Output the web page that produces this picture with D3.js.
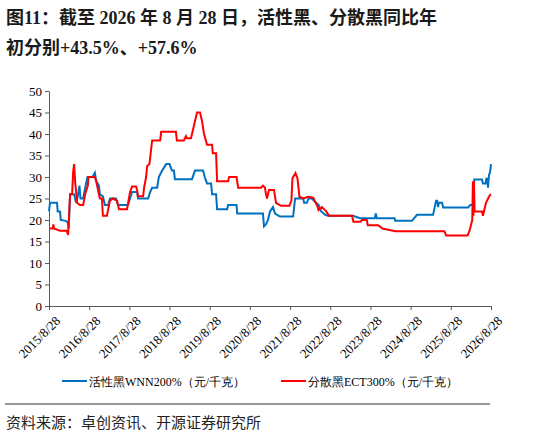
<!DOCTYPE html>
<html><head><meta charset="utf-8">
<script src="https://cdn.jsdelivr.net/npm/d3@7"></script>
<style>body{margin:0;background:#fff}</style>
</head><body>
<svg width="550" height="437"></svg>
<script>
// months since 2015/8/28, price
var blue = [[0,22],[0.3,24],[2.4,24],[2.6,22],[3.3,22],[3.5,20],[5,19.8],[5.6,19.5],[5.9,18],[6.3,26],[7.5,26],[8.1,24],[8.6,25.5],[9.1,28],[9.4,25],[10.2,25],[10.8,27.5],[11.5,30],[13,30],[13.7,31],[14.1,29],[14.9,28],[15.2,26],[16.1,25.5],[16.7,23.5],[17.7,23.5],[18.2,25],[20,25],[20.6,23.5],[23.6,23.5],[24.8,26.5],[26.3,26.5],[26.6,25],[29.6,25],[30.2,26.5],[30.8,27.5],[32.3,27.5],[32.8,30],[33.8,31.5],[35,33],[36,33],[36.7,31.5],[37.3,31.5],[37.6,29.5],[42.7,29.5],[43.6,31.5],[46,31.5],[46.5,30],[47.2,28.5],[48.4,28.5],[48.7,26],[49.9,26],[50.2,22.5],[53.2,22.5],[53.5,23.5],[56,23.5],[56.2,21.5],[63.9,21.5],[64.2,18.5],[64.8,19],[65.4,20],[66,22],[66.9,23],[67.5,21.5],[68.5,21],[69,20.8],[72.9,20.8],[73.5,25],[75.9,25],[76.2,24],[77,24],[77.5,25],[78.5,25],[79.5,24.2],[80.5,23.5],[81.3,22],[82.5,21.2],[83.3,21],[90.8,21],[92.9,20.4],[97.3,20.4],[97.6,21.5],[97.9,20.4],[103.2,20.4],[103.4,19.8],[108.4,19.8],[109.9,21.2],[114.7,21.2],[115.6,24.5],[115.9,24.5],[116.2,23],[116.4,24],[117.4,24],[117.7,22.9],[125.2,22.9],[125.8,23.5],[126.6,23.5],[127,29.4],[129.3,29.4],[129.6,28.5],[130.4,28.5],[130.6,29.6],[130.9,29.6],[131.1,27.5],[131.4,30.5],[131.7,31],[132,33]];
var red = [[0,18],[1.1,18],[1.3,19],[1.5,18],[3.3,17.5],[5.3,17.5],[5.7,16.5],[6.3,26],[6.9,26],[7.2,31],[7.5,33],[7.8,29],[8.4,24],[9.2,23.5],[10.2,23.5],[10.8,26],[11.6,28],[11.8,30],[13.7,30],[14.1,29],[14.9,26],[15.2,25],[15.8,25],[16.1,21],[17.3,21],[18.2,24.5],[19.1,25],[20.3,24.5],[20.9,22.5],[23.3,22.5],[24.2,26.5],[24.8,27.8],[26,27.8],[26.3,27],[26.6,25.5],[28.1,25.5],[28.4,27.5],[29,30],[29.3,32.5],[30,33],[30.8,38.5],[33.2,38.5],[33.5,40.5],[37.9,40.5],[38.2,38.5],[40.3,38.5],[40.9,39.5],[41.2,39],[42.4,39],[43.3,42],[44.2,45],[45.1,45],[45.7,43],[46.3,40],[47.2,37.5],[48.7,37.5],[48.9,35.5],[49.9,35.5],[50.2,29],[53.5,29],[53.8,30],[56,30],[56.5,27.5],[63.3,27.5],[63.9,28],[64.5,27.5],[64.8,26],[65.1,25],[65.7,27],[67.2,27],[67.8,24],[69.3,23.3],[71.8,23.3],[72.4,24.5],[72.7,29.7],[73.6,30.9],[74.2,29.7],[74.8,25.4],[75.9,25],[77.4,25.4],[78.9,25.2],[80.2,23.1],[80.5,22.3],[81.5,23],[82.8,22],[83.6,21],[90.5,21],[90.9,19.6],[93,19.6],[93.5,20],[94.9,20],[95.2,18.8],[98.3,18.8],[99.6,18],[103.4,17.4],[118.1,17.4],[118.6,16.4],[125,16.4],[125.6,17.5],[126.4,20],[126.6,29],[126.75,21],[126.9,29],[127.1,22],[129.3,22],[129.6,21],[130.5,24],[131.2,25.1],[131.7,25.8],[132,26]];
var xTicks = ["2015/8/28","2016/8/28","2017/8/28","2018/8/28","2019/8/28","2020/8/28","2021/8/28","2022/8/28","2023/8/28","2024/8/28","2025/8/28","2026/8/28"];
var yTicks = d3.range(0, 51, 5);

var svg = d3.select("svg");
var serif = "'Liberation Serif','Times New Roman',serif";
var cjk = "'Noto Sans CJK SC',sans-serif";

var x = d3.scaleLinear().domain([0, 132]).range([49, 491]);
var y = d3.scaleLinear().domain([0, 50]).range([306, 91]);

// title
var title = svg.append("g").attr("font-family", "'Liberation Serif','Noto Sans CJK SC',serif").attr("font-weight", "bold").attr("font-size", 18).attr("fill", "#1a1a1a");
title.append("text").attr("x", 6).attr("y", 24).text("图11：截至 2026 年 8 月 28 日，活性黑、分散黑同比年");
title.append("text").attr("x", 6).attr("y", 54).text("初分别+43.5%、+57.6%");

// y axis
var ya = svg.append("g").attr("transform", "translate(49,0)")
  .call(d3.axisLeft(y).tickValues(yTicks).tickSize(4).tickSizeOuter(0));
ya.selectAll("text").attr("font-family", serif).attr("font-size", 13).attr("fill", "#000");

// x axis
var xa = svg.append("g").attr("transform", "translate(0,306)")
  .call(d3.axisBottom(x).tickValues(d3.range(0, 133, 12)).tickSize(4).tickSizeOuter(0)
    .tickFormat((d, i) => xTicks[i]));
xa.selectAll("text").attr("font-family", serif).attr("font-size", 13).attr("fill", "#000")
  .attr("text-anchor", "end").attr("dy", "0.3em")
  .attr("transform", "translate(4,8) rotate(-45)");
svg.selectAll(".domain, .tick line").attr("stroke", "#595959");

var line = d3.line().x(d => x(d[0])).y(d => y(d[1]));
svg.append("path").datum(blue).attr("d", line).attr("fill", "none").attr("stroke", "#0070c0").attr("stroke-width", 2);
svg.append("path").datum(red).attr("d", line).attr("fill", "none").attr("stroke", "#ff0000").attr("stroke-width", 2);

// legend
var leg = [["活性黑WNN200%（元/千克）", "#0070c0", 62], ["分散黑ECT300%（元/千克）", "#ff0000", 281]];
leg.forEach(function(l) {
  svg.append("line").attr("x1", l[2]).attr("x2", l[2] + 25).attr("y1", 381).attr("y2", 381).attr("stroke", l[1]).attr("stroke-width", 2);
  svg.append("text").attr("x", l[2] + 27).attr("y", 385.5).attr("font-family", serif).attr("font-size", 12).text(l[0]);
});

// source
svg.append("line").attr("x1", 5).attr("x2", 490).attr("y1", 404).attr("y2", 404).attr("stroke", "#333").attr("stroke-width", 1);
svg.append("text").attr("x", 6).attr("y", 428).attr("font-family", cjk).attr("font-size", 15).attr("fill", "#222")
  .text("资料来源：卓创资讯、开源证券研究所");
</script>
</body></html>
